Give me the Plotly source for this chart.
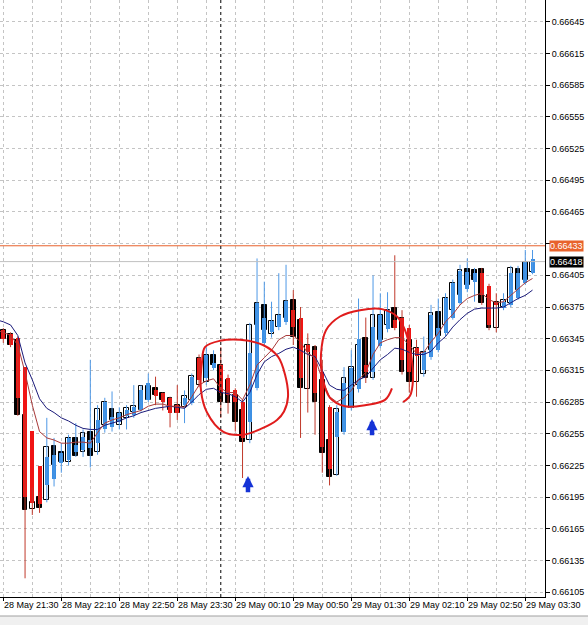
import plotly.graph_objects as go

# ---------------- data (M5 bars, index 0 = 28 May 21:30) ----------------
tick_labels = ["28 May 21:30", "28 May 22:10", "28 May 22:50", "28 May 23:30", "29 May 00:10",
               "29 May 00:50", "29 May 01:30", "29 May 02:10", "29 May 02:50", "29 May 03:30"]
tick_bars = [0, 8, 16, 24, 32, 40, 48, 56, 64, 72]
day_sep_bar = 30

open_ = [0.66353, 0.66349, 0.66344, 0.66273, 0.66184, 0.66195, 0.66192, 0.66243, 0.66238, 0.66228,
         0.66251, 0.66238, 0.66257, 0.66238, 0.66263, 0.66278, 0.66263, 0.66270, 0.66276, 0.66277,
         0.66287, 0.66298, 0.66294, 0.66289, 0.66282, 0.66280, 0.66287, 0.66301, 0.66304, 0.66330,
         0.66320, 0.66306, 0.66292, 0.66277, 0.66249, 0.66358, 0.66377, 0.66349, 0.66356, 0.66365,
         0.66382, 0.66363, 0.66297, 0.66337, 0.66306, 0.66249, 0.66216, 0.66257, 0.66279, 0.66301,
         0.66346, 0.66308, 0.66344, 0.66358, 0.66374, 0.66365, 0.66344, 0.66304, 0.66312, 0.66334,
         0.66370, 0.66358, 0.66372, 0.66386, 0.66411, 0.66410, 0.66411, 0.66386, 0.66355, 0.66375,
         0.66379, 0.66411, 0.66401, 0.66408]
high = [0.66355, 0.66351, 0.66347, 0.66276, 0.66204, 0.66200, 0.66270, 0.66251, 0.66246, 0.66254,
        0.66265, 0.66259, 0.66325, 0.66282, 0.66289, 0.66295, 0.66280, 0.66282, 0.66301, 0.66301,
        0.66312, 0.66309, 0.66294, 0.66290, 0.66301, 0.66296, 0.66312, 0.66330, 0.66337, 0.66334,
        0.66337, 0.66311, 0.66298, 0.66287, 0.66360, 0.66421, 0.66399, 0.66380, 0.66407, 0.66415,
        0.66391, 0.66375, 0.66350, 0.66339, 0.66325, 0.66282, 0.66282, 0.66318, 0.66334, 0.66383,
        0.66365, 0.66405, 0.66388, 0.66389, 0.66424, 0.66372, 0.66358, 0.66344, 0.66347, 0.66377,
        0.66383, 0.66388, 0.66401, 0.66415, 0.66421, 0.66412, 0.66412, 0.66397, 0.66388, 0.66388,
        0.66414, 0.66414, 0.66429, 0.66429]
low = [0.66341, 0.66337, 0.66272, 0.66118, 0.66178, 0.66180, 0.66190, 0.66205, 0.66218, 0.66225,
       0.66233, 0.66233, 0.66223, 0.66235, 0.66256, 0.66257, 0.66259, 0.66259, 0.66270, 0.66276,
       0.66285, 0.66282, 0.66277, 0.66261, 0.66268, 0.66265, 0.66282, 0.66299, 0.66301, 0.66315,
       0.66270, 0.66274, 0.66257, 0.66213, 0.66246, 0.66296, 0.66339, 0.66346, 0.66353, 0.66358,
       0.66339, 0.66251, 0.66275, 0.66254, 0.66218, 0.66206, 0.66215, 0.66254, 0.66277, 0.66294,
       0.66303, 0.66306, 0.66336, 0.66351, 0.66353, 0.66311, 0.66294, 0.66290, 0.66309, 0.66325,
       0.66332, 0.66347, 0.66363, 0.66377, 0.66389, 0.66380, 0.66377, 0.66353, 0.66351, 0.66372,
       0.66375, 0.66382, 0.66396, 0.66406]
close = [0.66345, 0.66339, 0.66273, 0.66183, 0.66190, 0.66185, 0.66242, 0.66225, 0.66228, 0.66251,
         0.66234, 0.66256, 0.66234, 0.66278, 0.66285, 0.66268, 0.66275, 0.66279, 0.66281, 0.66300,
         0.66300, 0.66292, 0.66287, 0.66277, 0.66275, 0.66291, 0.66310, 0.66327, 0.66330, 0.66320,
         0.66285, 0.66284, 0.66266, 0.66247, 0.66358, 0.66379, 0.66353, 0.66362, 0.66367, 0.66381,
         0.66347, 0.66298, 0.66339, 0.66285, 0.66237, 0.66214, 0.66278, 0.66308, 0.66318, 0.66339,
         0.66308, 0.66367, 0.66367, 0.66372, 0.66355, 0.66313, 0.66304, 0.66336, 0.66332, 0.66369,
         0.66348, 0.66384, 0.66398, 0.66410, 0.66396, 0.66401, 0.66379, 0.66355, 0.66380, 0.66382,
         0.66412, 0.66391, 0.66418, 0.66418]
ha_open = [0.66353, 0.66349, 0.66346, 0.66318, 0.66258, 0.66224, 0.66206, 0.66212, 0.66227, 0.66230,
           0.66238, 0.66240, 0.66241, 0.66246, 0.66259, 0.66261, 0.66266, 0.66272, 0.66273, 0.66277,
           0.66287, 0.66296, 0.66294, 0.66289, 0.66282, 0.66282, 0.66284, 0.66327, 0.66308, 0.66317,
           0.66320, 0.66308, 0.66296, 0.66285, 0.66266, 0.66298, 0.66341, 0.66351, 0.66356, 0.66361,
           0.66372, 0.66365, 0.66339, 0.66334, 0.66313, 0.66280, 0.66252, 0.66257, 0.66279, 0.66297,
           0.66320, 0.66313, 0.66338, 0.66354, 0.66363, 0.66365, 0.66355, 0.66336, 0.66315, 0.66328,
           0.66334, 0.66350, 0.66365, 0.66379, 0.66392, 0.66399, 0.66407, 0.66395, 0.66380, 0.66374,
           0.66377, 0.66384, 0.66398, 0.66407]
ha_close = [0.66345, 0.66339, 0.66289, 0.66195, 0.66189, 0.66188, 0.66233, 0.66235, 0.66237, 0.66251,
            0.66244, 0.66252, 0.66249, 0.66268, 0.66285, 0.66271, 0.66275, 0.66277, 0.66280, 0.66296,
            0.66303, 0.66291, 0.66285, 0.66275, 0.66275, 0.66289, 0.66309, 0.66306, 0.66330, 0.66322,
            0.66294, 0.66292, 0.66285, 0.66251, 0.66331, 0.66379, 0.66365, 0.66362, 0.66367, 0.66381,
            0.66356, 0.66308, 0.66332, 0.66294, 0.66242, 0.66222, 0.66276, 0.66303, 0.66317, 0.66345,
            0.66313, 0.66356, 0.66367, 0.66372, 0.66355, 0.66325, 0.66313, 0.66329, 0.66332, 0.66367,
            0.66355, 0.66384, 0.66398, 0.66409, 0.66408, 0.66407, 0.66386, 0.66358, 0.66377, 0.66380,
            0.66407, 0.66407, 0.66418, 0.66420]

# moving averages, index -1 .. 73
ma_fast = [0.66353, 0.66351, 0.66348, 0.66339, 0.66313, 0.66282, 0.66257, 0.66251, 0.66249, 0.66246, 0.66246,
           0.66247, 0.66247, 0.66246, 0.66256, 0.66265, 0.66268, 0.66270, 0.66273, 0.66275, 0.66277,
           0.66281, 0.66283, 0.66283, 0.66281, 0.66281, 0.66280, 0.66290, 0.66301, 0.66305, 0.66307,
           0.66298, 0.66294, 0.66294, 0.66287, 0.66301, 0.66320, 0.66327, 0.66334, 0.66344, 0.66348,
           0.66348, 0.66342, 0.66331, 0.66327, 0.66306, 0.66290, 0.66285, 0.66289, 0.66296, 0.66306,
           0.66313, 0.66330, 0.66341, 0.66344, 0.66346, 0.66346, 0.66339, 0.66331, 0.66332, 0.66342,
           0.66350, 0.66361, 0.66368, 0.66377, 0.66383, 0.66386, 0.66388, 0.66382, 0.66379, 0.66380,
           0.66386, 0.66392, 0.66398, 0.66402]
ma_slow = [0.66363, 0.66361, 0.66358, 0.66348, 0.66322, 0.66306, 0.66288, 0.66279, 0.66275, 0.66270, 0.66267,
           0.66263, 0.66260, 0.66259, 0.66259, 0.66263, 0.66265, 0.66267, 0.66270, 0.66272, 0.66275,
           0.66277, 0.66279, 0.66280, 0.66281, 0.66280, 0.66279, 0.66285, 0.66292, 0.66297, 0.66298,
           0.66294, 0.66293, 0.66290, 0.66285, 0.66294, 0.66311, 0.66323, 0.66328, 0.66331, 0.66335,
           0.66337, 0.66334, 0.66330, 0.66328, 0.66315, 0.66301, 0.66297, 0.66296, 0.66301, 0.66306,
           0.66309, 0.66317, 0.66325, 0.66330, 0.66336, 0.66335, 0.66332, 0.66330, 0.66330, 0.66333,
           0.66341, 0.66347, 0.66356, 0.66363, 0.66369, 0.66373, 0.66374, 0.66374, 0.66374, 0.66375,
           0.66379, 0.66383, 0.66386, 0.66391]

level_line = 0.66433
bid_price = 0.66418

# hand drawn marks (bar index, price)
loop1_x = [27.82, 29.89, 32.66, 35.82, 37.89, 38.86, 39.27, 38.72, 37.75, 35.68, 33.06, 30.30, 28.10, 27.27, 27.41, 27.82]
loop1_y = [0.66337, 0.66343, 0.66344, 0.66339, 0.66328, 0.66311, 0.66290, 0.66276, 0.66268, 0.66260,
           0.66254, 0.66257, 0.66275, 0.66296, 0.66323, 0.66337]
loop2_x = [53.61, 52.65, 49.89, 47.13, 45.06, 44.10, 43.82, 44.51, 46.44, 49.20, 52.23, 54.30, 55.41, 56.24, 56.51, 56.10, 55.13]
loop2_y = [0.66298, 0.66287, 0.66282, 0.66281, 0.66289, 0.66306, 0.66330, 0.66353, 0.66366, 0.66372,
           0.66373, 0.66366, 0.66353, 0.66330, 0.66306, 0.66291, 0.66285]
arrow_x = [33.75, 50.86]
arrow_tip = [0.66215, 0.66269]
arrow_tail = [0.66198, 0.66252]

y_ticks = [0.66105, 0.66135, 0.66165, 0.66195, 0.66225, 0.66255, 0.66285, 0.66315, 0.66345, 0.66375,
           0.66405, 0.66435, 0.66465, 0.66495, 0.66525, 0.66555, 0.66585, 0.66615, 0.66645]
y_tick_text = ["0.66105", "0.66135", "0.66165", "0.66195", "0.66225", "0.66255", "0.66285", "0.66315",
               "0.66345", "0.66375", "0.66405", "", "0.66465", "0.66495", "0.66525", "0.66555",
               "0.66585", "0.66615", "0.66645"]

# ---------------- figure ----------------
FONT = "Liberation Sans"
BLUE = "#3b8fe3"
RED = "#f01414"
idx = list(range(len(open_)))
ma_idx = list(range(-1, len(open_)))

fig = go.Figure()

# regular candle bodies (white bull / black bear)
for bull, col in [(True, "white"), (False, "black")]:
    xs, base, hgt = [], [], []
    for i in idx:
        if (close[i] >= open_[i]) == bull:
            xs.append(i)
            lo_, hi_ = min(open_[i], close[i]), max(open_[i], close[i])
            base.append(lo_)
            hgt.append(max(hi_ - lo_, 0.000006))
    fig.add_trace(go.Bar(x=xs, y=hgt, base=base, width=0.64, marker=dict(color=col, line=dict(color="black", width=1)),
                         hoverinfo="skip", showlegend=False))

# coloured wicks
for up, col in [(True, "#4d98e6"), (False, "#c0392b")]:
    wx, wy = [], []
    for i in idx:
        if (ha_close[i] >= ha_open[i]) == up:
            wx += [i, i, None]
            wy += [low[i], high[i], None]
    fig.add_trace(go.Scatter(x=wx, y=wy, mode="lines", line=dict(color=col, width=1),
                             hoverinfo="skip", showlegend=False))

# coloured bodies
for up, col in [(True, BLUE), (False, RED)]:
    xs, base, hgt = [], [], []
    for i in idx:
        if (ha_close[i] >= ha_open[i]) == up:
            xs.append(i)
            lo_, hi_ = min(ha_open[i], ha_close[i]), max(ha_open[i], ha_close[i])
            base.append(lo_)
            hgt.append(max(hi_ - lo_, 0.000006))
    fig.add_trace(go.Bar(x=xs, y=hgt, base=base, width=0.56, marker=dict(color=col, line=dict(width=0)),
                         hoverinfo="skip", showlegend=False))

# moving averages
fig.add_trace(go.Scatter(x=ma_idx, y=ma_slow, mode="lines", line=dict(color="#1a1a7a", width=1),
                         hoverinfo="skip", showlegend=False))
fig.add_trace(go.Scatter(x=ma_idx, y=ma_fast, mode="lines", line=dict(color="#a83a3a", width=1),
                         hoverinfo="skip", showlegend=False))

# hand drawn loops
for lx, ly in [(loop1_x, loop1_y), (loop2_x, loop2_y)]:
    fig.add_trace(go.Scatter(x=lx, y=ly, mode="lines", line=dict(color="#e01c1c", width=2, shape="spline"),
                             hoverinfo="skip", showlegend=False))

# arrows
for ax_, tip, tail in zip(arrow_x, arrow_tip, arrow_tail):
    fig.add_annotation(x=ax_, y=tip, ax=ax_, ay=tail, xref="x", yref="y", axref="x", ayref="y",
                       text="", showarrow=True, arrowhead=2, arrowsize=0.5, arrowwidth=4.5, arrowcolor="#1533d6")

# horizontal level lines
fig.add_shape(type="line", xref="paper", x0=0, x1=1, yref="y", y0=level_line, y1=level_line,
              line=dict(color="#e8622c", width=1))
fig.add_shape(type="line", xref="paper", x0=0, x1=1, yref="y", y0=bid_price, y1=bid_price,
              line=dict(color="#c0c0c0", width=1))
fig.add_annotation(xref="paper", x=1, xanchor="left", xshift=4, yref="y", y=level_line, text=f"{level_line:.5f}",
                   showarrow=False, bgcolor="#e8622c", font=dict(family=FONT, size=9, color="white"), borderpad=0)
fig.add_annotation(xref="paper", x=1, xanchor="left", xshift=4, yref="y", y=bid_price, text=f"{bid_price:.5f}",
                   showarrow=False, bgcolor="black", font=dict(family=FONT, size=9, color="white"), borderpad=0)

# day separator
fig.add_shape(type="line", xref="x", x0=day_sep_bar, x1=day_sep_bar, yref="paper", y0=0, y1=1,
              line=dict(color="black", width=1, dash="dot"))

# x labels (left aligned at tick, MT4 style)
for b, t in zip(tick_bars, tick_labels):
    fig.add_annotation(xref="x", x=b, xanchor="left", xshift=-1, yref="paper", y=-0.0134, yanchor="middle",
                       text=t, showarrow=False, font=dict(family=FONT, size=9, color="black"))

# bottom scroll strip
fig.add_shape(type="rect", xref="paper", x0=0, x1=588 / 545, yref="paper", y0=-28 / 597, y1=-19 / 597,
              fillcolor="#f0f0f0", line=dict(width=0), layer="below")
fig.add_shape(type="line", xref="paper", x0=0, x1=588 / 545, yref="paper", y0=-19 / 597, y1=-19 / 597,
              line=dict(color="#a0a0a0", width=1))

grid_col = "#c4c4c4"
fig.update_layout(
    width=588, height=625,
    margin=dict(l=0, r=43, t=0, b=28),
    paper_bgcolor="white", plot_bgcolor="white",
    barmode="overlay", bargap=0,
    showlegend=False,
    font=dict(family=FONT, size=9, color="black"),
    xaxis=dict(range=[-0.455, 74.72], tickvals=tick_bars, ticktext=[""] * len(tick_bars), ticks="outside",
               ticklen=3, tickcolor="black", showgrid=True, gridcolor=grid_col, griddash="3px,3px",
               showline=True, linecolor="black", linewidth=1, zeroline=False, fixedrange=True,
               minor=dict(tickvals=[b + 4 for b in tick_bars], showgrid=True, gridcolor=grid_col,
                          griddash="3px,3px", ticks="")),
    yaxis=dict(side="right", range=[0.661003, 0.666658], tickvals=y_ticks, ticktext=y_tick_text,
               ticks="outside", ticklen=4, tickcolor="black", showgrid=True, gridcolor=grid_col,
               griddash="3px,3px", showline=True, linecolor="black", linewidth=1, zeroline=False,
               tickfont=dict(family=FONT, size=9, color="black"), fixedrange=True),
)

fig.write_html("out.html")
